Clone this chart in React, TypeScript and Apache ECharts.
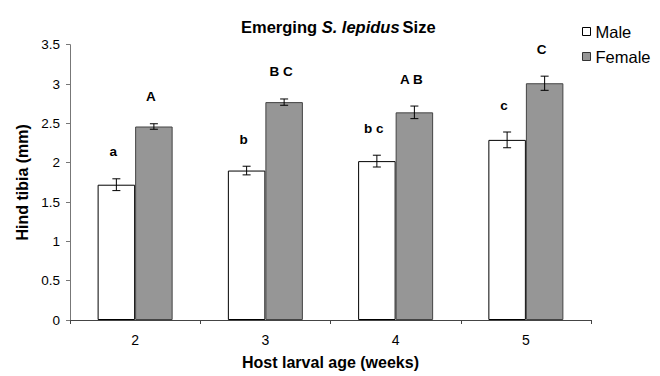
import React, { useEffect, useRef } from "react";
import * as echarts from "echarts";

const categories = ["2", "3", "4", "5"];
const maleValues = [1.72, 1.9, 2.02, 2.29];
const maleErrors = [0.075, 0.055, 0.075, 0.1];
const femaleValues = [2.46, 2.77, 2.64, 3.01];
const femaleErrors = [0.035, 0.04, 0.08, 0.09];
const maleLetters = ["a", "b", "b c", "c"];
const femaleLetters = ["A", "B C", "A B", "C"];
const yTicks = { min: 0, max: 3.5, interval: 0.5 };

const FONT = "'Liberation Sans', Arial, Helvetica, sans-serif";
const GAP = 0.424;

function makeErrorSeries(name: string, values: number[], errors: number[], letters: string[], side: number) {
  return {
    type: "custom",
    name: name + " error",
    z: 5,
    silent: true,
    encode: { x: 0, y: 1 },
    data: values.map((v, i) => [i, v, errors[i]]),
    renderItem: (params: any, api: any) => {
      const idx = api.value(0);
      const v = api.value(1);
      const e = api.value(2);
      const band = api.size([1, 0])[0];
      const barW = (band * (1 - GAP)) / 2;
      const c = api.coord([idx, v]);
      const x = c[0] + (side * barW) / 2;
      const yTop = api.coord([idx, v + e])[1];
      const yBot = api.coord([idx, v - e])[1];
      const cap = 4;
      const st = { stroke: "#000", lineWidth: 1 };
      return {
        type: "group",
        children: [
          { type: "line", shape: { x1: x, y1: yTop, x2: x, y2: yBot }, style: st },
          { type: "line", shape: { x1: x - cap, y1: yTop, x2: x + cap, y2: yTop }, style: st },
          { type: "line", shape: { x1: x - cap, y1: yBot, x2: x + cap, y2: yBot }, style: st },
          {
            type: "text",
            style: {
              text: letters[params.dataIndex],
              x: x - 3,
              y: yTop - 27,
              align: "center",
              verticalAlign: "middle",
              fill: "#000",
              fontSize: 13.5,
              fontWeight: "bold",
              fontFamily: FONT,
            },
          },
        ],
      };
    },
  };
}

export default function App() {
  const ref = useRef<HTMLDivElement>(null);
  useEffect(() => {
    if (!ref.current) return;
    const chart = echarts.init(ref.current, null, { renderer: "svg" });
    chart.setOption({
      animation: false,
      backgroundColor: "#fff",
      textStyle: { fontFamily: FONT },
      title: {
        text: "{b|Emerging }{i|S. lepidus}{b|Size}",
        left: 236,
        top: 13,
        textStyle: {
          rich: {
            b: { fontSize: 16.5, fontWeight: "bold", color: "#000", fontFamily: FONT },
            i: { fontSize: 16.5, fontWeight: "bold", fontStyle: "italic", color: "#000", fontFamily: FONT, padding: [0, 3, 0, 0] },
          },
        },
      },
      legend: {
        data: [
          { name: "Male", icon: "rect", itemStyle: { color: "#fff", borderColor: "#000", borderWidth: 1 } },
          { name: "Female", icon: "rect", itemStyle: { color: "#969696", borderColor: "#333", borderWidth: 1 } },
        ],
        orient: "vertical",
        left: 577,
        top: 18,
        itemWidth: 8,
        itemHeight: 8,
        itemGap: 8,
        textStyle: { fontSize: 16.5, color: "#000", fontFamily: FONT },
      },
      grid: { left: 70, right: 69, top: 44.7, bottom: 56, containLabel: false },
      xAxis: {
        type: "category",
        data: categories,
        name: "Host larval age (weeks)",
        nameLocation: "middle",
        nameGap: 34,
        nameTextStyle: { fontSize: 16, fontWeight: "bold", color: "#000", fontFamily: FONT },
        axisLine: { lineStyle: { color: "#444", width: 1 } },
        axisTick: { show: true, length: 4, inside: false, lineStyle: { color: "#444" } },
        axisLabel: { color: "#000", fontSize: 14, margin: 13, fontFamily: FONT },
        splitLine: { show: false },
      },
      yAxis: {
        type: "value",
        min: yTicks.min,
        max: yTicks.max,
        interval: yTicks.interval,
        name: "Hind tibia (mm)",
        nameLocation: "middle",
        nameGap: 34,
        nameTextStyle: { fontSize: 16, fontWeight: "bold", color: "#000", fontFamily: FONT },
        axisLine: { show: true, lineStyle: { color: "#777", width: 1 } },
        axisTick: { show: true, length: 4, lineStyle: { color: "#777" } },
        axisLabel: { color: "#000", fontSize: 13.5, margin: 10, fontFamily: FONT },
        splitLine: { show: false },
      },
      series: [
        {
          name: "Male",
          type: "bar",
          data: maleValues,
          barGap: "0%",
          barCategoryGap: GAP * 100 + "%",
          itemStyle: { color: "#fff", borderColor: "#000", borderWidth: 1 },
        },
        {
          name: "Female",
          type: "bar",
          data: femaleValues,
          barGap: "0%",
          barCategoryGap: GAP * 100 + "%",
          itemStyle: { color: "#969696", borderColor: "#444", borderWidth: 1 },
        },
        makeErrorSeries("Male", maleValues, maleErrors, maleLetters, -1),
        makeErrorSeries("Female", femaleValues, femaleErrors, femaleLetters, 1),
      ],
    });
    return () => chart.dispose();
  }, []);
  return <div ref={ref} style={{ width: 660, height: 376, position: "absolute", left: 0, top: 0 }} />;
}
